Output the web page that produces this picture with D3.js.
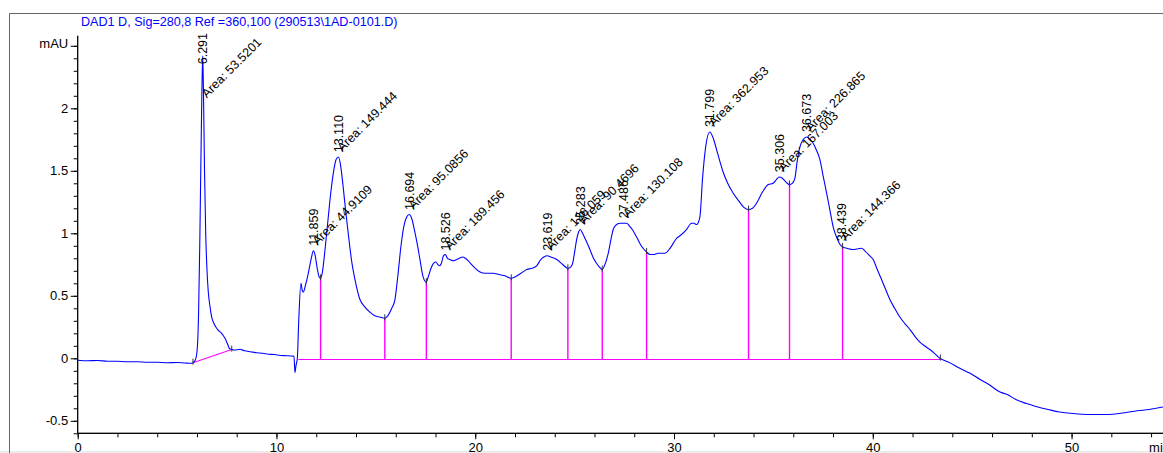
<!DOCTYPE html>
<html>
<head>
<meta charset="utf-8">
<script src="https://cdn.jsdelivr.net/npm/d3@7"></script>
<style>
  body { margin: 0; background: #fff; }
  svg { display: block; }
  text { font-family: "Liberation Sans", Arial, Helvetica, sans-serif; }
</style>
</head>
<body>
<svg id="chart" width="1163" height="453"></svg>
<script>
// DAD signal, 280 nm
const signalTitle = "DAD1 D, Sig=280,8 Ref =360,100 (290513\\1AD-0101.D)";

// retention time (min)
const timeMin = [
  0.0, 0.5, 1.0, 1.5, 2.0, 2.5, 3.0, 3.5, 4.0, 4.5, 5.0, 5.4, 5.7, 5.8, 5.9, 6.0, 6.08, 6.14, 6.2, 6.25,
  6.29, 6.33, 6.38, 6.44, 6.5, 6.57, 6.65, 6.74, 6.85, 6.99, 7.1, 7.24, 7.41, 7.55, 7.63, 7.75, 7.9, 8.16,
  8.4, 8.7, 9.0, 9.3, 9.6, 9.9, 10.2, 10.5, 10.8, 10.88, 10.93, 10.98, 11.05, 11.12, 11.23, 11.3, 11.35,
  11.45, 11.6, 11.75, 11.86, 11.95, 12.05, 12.15, 12.22, 12.3, 12.45, 12.6, 12.75, 12.9, 13.0, 13.12,
  13.22, 13.35, 13.48, 13.61, 13.78, 13.95, 14.2, 14.45, 14.7, 14.95, 15.2, 15.45, 15.6, 15.8, 15.96,
  16.1, 16.25, 16.4, 16.55, 16.68, 16.8, 16.95, 17.1, 17.22, 17.38, 17.54, 17.65, 17.8, 17.9, 18.02,
  18.12, 18.2, 18.3, 18.4, 18.5, 18.6, 18.73, 18.9, 19.06, 19.2, 19.37, 19.5, 19.65, 19.82, 20.0, 20.24,
  20.5, 20.9, 21.2, 21.5, 21.81, 22.0, 22.3, 22.59, 22.85, 23.09, 23.3, 23.45, 23.62, 23.8, 24.1, 24.4,
  24.66, 24.8, 24.9, 25.0, 25.1, 25.2, 25.28, 25.4, 25.55, 25.77, 25.95, 26.1, 26.25, 26.39, 26.5, 26.69,
  26.85, 26.94, 27.11, 27.3, 27.49, 27.62, 27.75, 27.9, 28.12, 28.35, 28.62, 28.8, 28.96, 29.2, 29.54,
  29.8, 30.13, 30.3, 30.63, 30.88, 31.0, 31.14, 31.3, 31.44, 31.6, 31.8, 31.95, 32.14, 32.3, 32.47, 32.7,
  32.98, 33.3, 33.5, 33.75, 33.95, 34.15, 34.45, 34.74, 34.99, 35.15, 35.29, 35.45, 35.58, 35.7, 35.81,
  35.95, 36.08, 36.2, 36.33, 36.5, 36.67, 36.85, 37.0, 37.15, 37.34, 37.5, 37.68, 37.85, 38.01, 38.2,
  38.35, 38.48, 38.7, 39.0, 39.2, 39.44, 39.6, 39.85, 40.02, 40.2, 40.44, 40.65, 40.86, 41.1, 41.36,
  41.6, 41.87, 42.1, 42.37, 42.6, 42.87, 43.1, 43.37, 43.8, 44.38, 44.9, 45.4, 45.84, 46.4, 46.77, 47.2,
  47.7, 48.2, 48.83, 49.4, 49.95, 50.5, 51.07, 51.6, 52.2, 52.7, 53.3, 53.9, 54.6
];

// absorbance (mAU)
const absorbance = [
  -0.015, -0.019, -0.018, -0.023, -0.024, -0.028, -0.028, -0.032, -0.031, -0.035, -0.034, -0.038, -0.04, -0.035, -0.02, 0.05, 0.35, 0.9, 1.6, 2.15,
  2.42, 2.1, 1.5, 1.0, 0.72, 0.53, 0.42, 0.33, 0.28, 0.24, 0.22, 0.2, 0.16, 0.11, 0.08, 0.07, 0.066, 0.072,
  0.06, 0.052, 0.044, 0.041, 0.033, 0.03, 0.023, 0.021, 0.018, 0.016, -0.115, -0.06, 0.0, 0.3, 0.6, 0.54, 0.53,
  0.58, 0.68, 0.8, 0.86, 0.82, 0.72, 0.65, 0.64, 0.68, 0.88, 1.12, 1.35, 1.52, 1.59, 1.61,
  1.55, 1.38, 1.18, 1.0, 0.78, 0.63, 0.47, 0.41, 0.37, 0.34, 0.33, 0.32, 0.34, 0.4, 0.47,
  0.65, 0.88, 1.05, 1.13, 1.15, 1.12, 1.02, 0.9, 0.79, 0.65, 0.61, 0.66, 0.73, 0.76, 0.77,
  0.75, 0.74, 0.76, 0.82, 0.83, 0.8, 0.79, 0.78, 0.79, 0.8, 0.81, 0.8, 0.78, 0.75, 0.72, 0.69,
  0.68, 0.68, 0.67, 0.66, 0.64, 0.65, 0.68, 0.71, 0.72, 0.74, 0.79, 0.81, 0.82, 0.81, 0.79, 0.75,
  0.72, 0.73, 0.76, 0.85, 0.95, 1.01, 1.03, 1.0, 0.95, 0.87, 0.8, 0.76, 0.73, 0.71, 0.74, 0.84,
  0.97, 1.03, 1.07, 1.08, 1.08, 1.08, 1.06, 1.03, 0.97, 0.9, 0.85, 0.83, 0.83, 0.84, 0.84,
  0.88, 0.96, 0.98, 1.03, 1.08, 1.08, 1.07, 1.13, 1.45, 1.7, 1.81, 1.77, 1.67, 1.58, 1.49, 1.4,
  1.32, 1.25, 1.21, 1.19, 1.2, 1.24, 1.33, 1.39, 1.4, 1.43, 1.45, 1.44, 1.42, 1.4, 1.39,
  1.4, 1.44, 1.58, 1.69, 1.75, 1.77, 1.75, 1.72, 1.67, 1.59, 1.46, 1.32, 1.18, 1.05, 0.96,
  0.91, 0.89, 0.88, 0.87, 0.875, 0.88, 0.86, 0.82, 0.79, 0.72, 0.63, 0.55, 0.47, 0.4, 0.33,
  0.28, 0.23, 0.18, 0.13, 0.1, 0.07, 0.04, 0.0, -0.03, -0.08, -0.12, -0.17, -0.21, -0.27, -0.29, -0.33,
  -0.36, -0.385, -0.41, -0.43, -0.44, -0.448, -0.45, -0.45, -0.445, -0.435, -0.42, -0.41, -0.39
];

// integration results
const peakRT = [6.291, 11.859, 13.110, 16.694, 18.526, 23.619, 25.283, 27.486, 31.799, 35.306, 36.673, 38.439];
const peakArea = [53.5201, 44.9109, 149.444, 95.0856, 189.456, 126.059, 90.4696, 130.108, 362.953, 167.003, 226.865, 144.366];

// integration baselines: first peak (tilted) and the common baseline of the cluster
const firstBaseTime = [5.8, 7.75];
const firstBaseLevel = [-0.035, 0.07];
const clusterBaseTime = [11.1, 43.4];
const clusterBaseLevel = -0.01;
// perpendicular drops between peaks of the cluster (min)
const dropTime = [12.22, 15.45, 17.54, 21.81, 24.66, 26.39, 28.62, 33.75, 35.81, 38.48];

// axis ticks
const xTickValues = [0, 10, 20, 30, 40, 50];
const yTickValues = [-0.5, 0, 0.5, 1, 1.5, 2];
const yUnitTick = 2.5;
const xUnit = "min";
const yUnit = "mAU";

const svg = d3.select("#chart");
const W = 1163, H = 453;
const FONT = '"Liberation Sans", Arial, sans-serif';

const x = d3.scaleLinear().domain([0, 54.6]).range([77.7, 1163]);
const y = d3.scaleLinear().domain([-0.6, 2.58]).range([433.3, 35.8]);

const traceAt = t => {
  const i = d3.bisectLeft(timeMin, t);
  if (i <= 0) return absorbance[0];
  if (i >= timeMin.length) return absorbance[absorbance.length - 1];
  const t0 = timeMin[i - 1], t1 = timeMin[i];
  const f = (t - t0) / (t1 - t0);
  return absorbance[i - 1] + f * (absorbance[i] - absorbance[i - 1]);
};

// outer frame
svg.append("rect").attr("x", 0).attr("y", 451).attr("width", W).attr("height", 2).attr("fill", "#ececec");
svg.append("path")
  .attr("d", `M9.5,${H} V13.5 H${W}`)
  .attr("fill", "none").attr("stroke", "#666").attr("stroke-width", 1);

// title
svg.append("text")
  .attr("x", 81).attr("y", 25.5)
  .attr("fill", "#0000ff").attr("font-size", 12.6)
  .text(signalTitle);

// y axis
const yMinor = d3.range(-6, 26).map(k => k / 10);
const gy = svg.append("g").attr("transform", `translate(${x(0)},0)`);
gy.call(d3.axisLeft(y).tickValues(yMinor).tickSize(4).tickSizeOuter(0).tickFormat(""));
gy.append("g").call(d3.axisLeft(y).tickValues(yTickValues.concat([yUnitTick])).tickSize(7).tickSizeOuter(0)
  .tickFormat(d => d === yUnitTick ? yUnit : String(d)));
gy.selectAll("path.domain").attr("d", `M0,${y(2.58)}V${y(-0.6)}`).attr("stroke", "#000");
gy.selectAll(".tick line").attr("stroke", "#000");
gy.selectAll(".tick text").attr("font-size", 13).attr("fill", "#000")
  .attr("font-family", FONT).attr("x", -9.5);
gy.selectAll(".tick text").filter(d => d === yUnitTick).attr("dy", "0.12em");

// x axis
const xMinor = d3.range(0, 55, 2);
const gx = svg.append("g").attr("transform", `translate(0,${y(-0.6)})`);
gx.call(d3.axisBottom(x).tickValues(xMinor).tickSize(4).tickSizeOuter(0).tickFormat(""));
gx.append("g").call(d3.axisBottom(x).tickValues(xTickValues).tickSize(6).tickSizeOuter(0).tickFormat(d => String(d)));
gx.selectAll("path.domain").attr("d", `M${x(0)},0H${W}`).attr("stroke", "#000");
gx.selectAll(".tick line").attr("stroke", "#000");
gx.selectAll(".tick text").attr("font-size", 13).attr("fill", "#000")
  .attr("font-family", FONT).attr("dy", 0).attr("y", 18.8);
svg.append("text")
  .attr("x", x(54) - 2).attr("y", y(-0.6) + 18.8)
  .attr("font-size", 13).attr("fill", "#000").text(xUnit);

// integration baselines and drop lines
const magenta = "#ff00ff";
svg.append("line")
  .attr("x1", x(firstBaseTime[0])).attr("y1", y(firstBaseLevel[0]))
  .attr("x2", x(firstBaseTime[1])).attr("y2", y(firstBaseLevel[1]))
  .attr("stroke", magenta).attr("stroke-width", 1.1);
svg.append("line")
  .attr("x1", x(clusterBaseTime[0])).attr("y1", y(clusterBaseLevel))
  .attr("x2", x(clusterBaseTime[1])).attr("y2", y(clusterBaseLevel))
  .attr("stroke", magenta).attr("stroke-width", 1.1);
svg.append("g").selectAll("line").data(dropTime).join("line")
  .attr("x1", d => x(d)).attr("x2", d => x(d))
  .attr("y1", y(clusterBaseLevel)).attr("y2", d => y(traceAt(d)))
  .attr("stroke", magenta).attr("stroke-width", 1.4);

// chromatogram trace
const line = d3.line().x(d => x(d[0])).y(d => y(d[1])).curve(d3.curveMonotoneX);
svg.append("path")
  .datum(timeMin.map((t, i) => [t, absorbance[i]]))
  .attr("d", line)
  .attr("fill", "none").attr("stroke", "#0000ff").attr("stroke-width", 1.1);

// peak start / end marks
const marks = firstBaseTime.concat([clusterBaseTime[1]], dropTime);
svg.append("g").selectAll("line").data(marks).join("line")
  .attr("x1", d => x(d)).attr("x2", d => x(d))
  .attr("y1", d => y(traceAt(d)) - 4).attr("y2", d => y(traceAt(d)) + 2)
  .attr("stroke", "#333").attr("stroke-width", 1);

// peak annotations: retention time (vertical) and area (diagonal)
const labels = svg.append("g").attr("font-size", 12.5).attr("fill", "#000");
peakRT.forEach((rt, i) => {
  const px = x(rt);
  const py = y(traceAt(rt)) - 5;

  const rtText = labels.append("text").attr("dy", "0.35em").text(rt.toFixed(3));
  const rtLen = rtText.node().getComputedTextLength();
  const rtY = Math.max(py, 33 + rtLen);
  rtText.attr("transform", `translate(${px},${rtY}) rotate(-90)`);

  const areaText = labels.append("text").text("Area: " + String(peakArea[i]));
  const aLen = areaText.node().getComputedTextLength();
  const aY = Math.max(py, 43 + aLen * Math.SQRT1_2);
  areaText.attr("transform", `translate(${px + 4},${aY}) rotate(-45)`);
});
</script>
</body>
</html>
